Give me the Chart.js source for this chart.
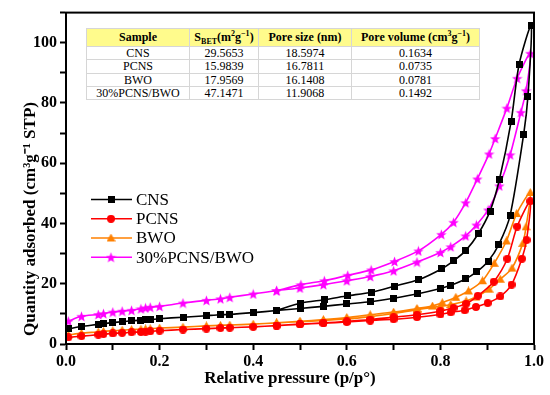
<!DOCTYPE html>
<html lang="en">
<head>
<meta charset="UTF-8" />
<script src="https://cdn.jsdelivr.net/npm/chart.js@4.4.0/dist/chart.umd.min.js"></script>
<title>N2 isotherms</title>
<style>
  body { margin: 0; background: #fff; }
  #wrap { position: relative; width: 550px; height: 395px; }
  #bet { position: absolute; left: 86px; top: 28px; width: 393px; border-collapse: collapse;
         table-layout: fixed; font-family: "Liberation Serif", serif; font-size: 12px; color: #000; background: #fff; }
  #bet th, #bet td { border: 1px solid #d6d6d6; text-align: center; padding: 0; white-space: nowrap; }
  #bet th { background: #fffb8c; height: 17px; font-weight: bold; }
  #bet td { height: 12.3px; line-height: 12px; }
  #bet sub, #bet sup { font-size: 8px; line-height: 0; }
</style>
</head>
<body>
<div id="wrap">
  <canvas id="chart" width="550" height="395"></canvas>
  <table id="bet">
    <colgroup><col style="width:103px"><col style="width:69px"><col style="width:93px"><col style="width:128px"></colgroup>
    <thead>
      <tr><th>Sample</th><th>S<sub>BET</sub>(m<sup>2</sup>g<sup>&minus;1</sup>)</th><th>Pore size (nm)</th><th>Pore volume (cm<sup>3</sup>g<sup>&minus;1</sup>)</th></tr>
    </thead>
    <tbody id="betRows"></tbody>
  </table>
</div>
<script>
  // table values
  const samples = ["CNS", "PCNS", "BWO", "30%PCNS/BWO"];
  const sBet = ["29.5653", "15.9839", "17.9569", "47.1471"];
  const poreSize = ["18.5974", "16.7811", "16.1408", "11.9068"];
  const poreVolume = ["0.1634", "0.0735", "0.0781", "0.1492"];

  const xTitle = "Relative pressure (p/p°)";
  const yTitle = "Quantity adsorbed (cm³g⁻¹ STP)";

  // adsorption branch, shared low pressure points
  const pLow = [0.005, 0.033, 0.069, 0.08, 0.10, 0.12, 0.14, 0.16, 0.17, 0.18, 0.20, 0.25,
                0.30, 0.33, 0.35, 0.40, 0.45, 0.50, 0.55, 0.60, 0.65, 0.70, 0.75, 0.80];

  const cnsLowY = [5.0, 5.8, 6.5, 6.8, 7.1, 7.4, 7.7, 7.9, 8.0, 8.1, 8.4, 8.9,
                   9.4, 9.7, 9.8, 10.4, 11.1, 11.8, 12.5, 13.3, 14.0, 15.2, 16.6, 18.4];
  const cnsHighP = [0.822, 0.854, 0.877, 0.902, 0.925, 0.949, 0.978, 0.987, 0.994];
  const cnsHighY = [19.5, 21.6, 23.9, 27.5, 33.1, 42.7, 69.7, 82.2, 105.7];
  const cnsDesP = [0.968, 0.951, 0.926, 0.906, 0.881, 0.854, 0.828, 0.802, 0.753, 0.702, 0.652, 0.602, 0.552, 0.502, 0.45];
  const cnsDesY = [92.7, 73.7, 54.5, 44.1, 36.6, 31.0, 27.6, 24.9, 21.3, 19.2, 17.2, 16.0, 14.7, 13.6, 11.1];

  const pcnsLowY = [2.2, 2.6, 3.1, 3.3, 3.5, 3.7, 3.9, 4.0, 4.1, 4.2, 4.4, 4.8,
                    5.1, 5.3, 5.4, 5.7, 6.1, 6.5, 6.9, 7.3, 7.8, 8.2, 8.9, 9.8];
  const pcnsHighP = [0.822, 0.852, 0.876, 0.901, 0.928, 0.952, 0.974, 0.984, 0.992];
  const pcnsHighY = [10.5, 11.2, 12.3, 13.6, 15.8, 19.7, 28.3, 34.5, 47.4];
  const pcnsDesP = [0.964, 0.943, 0.914, 0.88, 0.855, 0.828, 0.80, 0.75, 0.70, 0.65, 0.60, 0.55, 0.50, 0.45];
  const pcnsDesY = [39.0, 28.3, 20.7, 16.0, 13.4, 12.0, 10.9, 9.7, 8.9, 8.1, 7.5, 7.0, 6.6, 6.1];

  const bwoLowY = [3.0, 3.6, 4.0, 4.2, 4.4, 4.6, 4.8, 4.9, 5.0, 5.1, 5.3, 5.6,
                   6.0, 6.2, 6.3, 6.6, 7.0, 7.4, 7.8, 8.3, 9.1, 10.1, 11.4, 12.5];
  const bwoHighP = [0.822, 0.855, 0.876, 0.904, 0.928, 0.953, 0.976, 0.983, 0.992];
  const bwoHighY = [13.1, 14.3, 15.6, 18.2, 21.5, 25.2, 33.4, 38.9, 50.3];
  const bwoDesP = [0.963, 0.941, 0.915, 0.89, 0.86, 0.833, 0.804, 0.783, 0.75, 0.70, 0.65, 0.60, 0.55, 0.50, 0.45];
  const bwoDesY = [43.3, 34.2, 26.8, 21.0, 17.6, 15.5, 13.7, 12.6, 11.8, 10.6, 9.7, 8.8, 8.1, 7.5, 7.0];

  const mixLowY = [7.6, 9.2, 9.8, 10.1, 10.6, 10.9, 11.2, 11.7, 12.0, 12.2, 12.5, 13.6,
                   14.5, 15.0, 15.5, 16.6, 17.7, 18.6, 19.7, 21.0, 22.4, 24.3, 27.2, 30.4];
  const mixHighP = [0.822, 0.854, 0.877, 0.902, 0.926, 0.949, 0.972, 0.983, 0.992];
  const mixHighY = [32.3, 35.9, 39.5, 44.5, 52.5, 62.8, 76.9, 84.1, 96.5];
  const mixDesP = [0.964, 0.942, 0.917, 0.904, 0.879, 0.854, 0.828, 0.802, 0.753, 0.702, 0.652, 0.602, 0.552, 0.502, 0.45];
  const mixDesY = [88.2, 78.3, 68.2, 63.1, 54.8, 46.9, 40.4, 36.4, 30.9, 27.4, 24.6, 22.8, 21.0, 19.7, 17.7];

  // fill the table
  const rows = document.getElementById("betRows");
  samples.forEach((s, i) => {
    const tr = document.createElement("tr");
    [s, sBet[i], poreSize[i], poreVolume[i]].forEach(v => {
      const td = document.createElement("td");
      td.textContent = v;
      tr.appendChild(td);
    });
    rows.appendChild(tr);
  });

  function pts(px, py) {
    return px.map((x, i) => ({ x: x, y: py[i] }));
  }
  function isotherm(lowY, highP, highY, desP, desY) {
    return pts(pLow, lowY).concat(pts(highP, highY), pts(desP, desY));
  }

  // small canvases used as point markers
  function marker(shape, color, size) {
    const c = document.createElement("canvas");
    c.width = size;
    c.height = size;
    const g = c.getContext("2d");
    const m = size / 2;
    g.fillStyle = color;
    g.beginPath();
    if (shape === "square") {
      g.rect(0, 0, size, size);
    } else if (shape === "circle") {
      g.arc(m, m, m, 0, Math.PI * 2);
    } else if (shape === "triangle") {
      g.moveTo(m, 0);
      g.lineTo(size, size - 1);
      g.lineTo(0, size - 1);
      g.closePath();
    } else {
      const cy = m + 0.6;
      for (let k = 0; k < 10; k++) {
        const r = k % 2 === 0 ? m : m * 0.42;
        const a = -Math.PI / 2 + k * Math.PI / 5;
        const x = m + r * Math.cos(a), y = cy + r * Math.sin(a);
        if (k === 0) g.moveTo(x, y); else g.lineTo(x, y);
      }
      g.closePath();
    }
    g.fill();
    return c;
  }

  const serif = "'Liberation Serif', 'Times New Roman', serif";

  const series = [
    { label: "CNS", color: "#000000", mark: marker("square", "#000000", 7),
      data: isotherm(cnsLowY, cnsHighP, cnsHighY, cnsDesP, cnsDesY) },
    { label: "PCNS", color: "#ff0000", mark: marker("circle", "#ff0000", 8),
      data: isotherm(pcnsLowY, pcnsHighP, pcnsHighY, pcnsDesP, pcnsDesY) },
    { label: "BWO", color: "#ff8000", mark: marker("triangle", "#ff8000", 9),
      data: isotherm(bwoLowY, bwoHighP, bwoHighY, bwoDesP, bwoDesY) },
    { label: "30%PCNS/BWO", color: "#ff00ff", mark: marker("star", "#ff00ff", 11),
      data: isotherm(mixLowY, mixHighP, mixHighY, mixDesP, mixDesY) }
  ];

  // frame on top/right, axis titles and the key with line + marker
  const frameAndKey = {
    id: "frameAndKey",
    afterDatasetsDraw(chart) {
      const { ctx, chartArea: a } = chart;
      ctx.save();
      ctx.strokeStyle = "#000";
      ctx.lineWidth = 2;
      ctx.strokeRect(a.left, a.top, a.right - a.left, a.bottom - a.top);

      ctx.fillStyle = "#000";
      ctx.textAlign = "center";
      ctx.textBaseline = "middle";
      ctx.font = "bold 17px " + serif;
      ctx.fillText(xTitle, a.left + 224, a.bottom + 35);
      ctx.save();
      ctx.translate(31, a.bottom - 125);
      ctx.rotate(-Math.PI / 2);
      ctx.fillText(yTitle, 0, 0);
      ctx.restore();

      ctx.textAlign = "left";
      ctx.font = "17px " + serif;
      series.forEach((s, i) => {
        const y = a.top + 187 + i * 19.2;
        const x0 = a.left + 25;
        ctx.strokeStyle = s.color;
        ctx.lineWidth = 1.5;
        ctx.beginPath();
        ctx.moveTo(x0, y);
        ctx.lineTo(x0 + 41, y);
        ctx.stroke();
        ctx.drawImage(s.mark, x0 + 20 - s.mark.width / 2, y - s.mark.height / 2);
        ctx.fillText(s.label, x0 + 45, y + 1);
      });
      ctx.restore();
    }
  };

  new Chart(document.getElementById("chart"), {
    type: "scatter",
    data: {
      datasets: series.map(s => ({
        label: s.label,
        data: s.data,
        showLine: true,
        borderColor: s.color,
        backgroundColor: s.color,
        borderWidth: 1.6,
        pointStyle: s.mark,
        pointRadius: 4,
        tension: 0.25,
        fill: false
      }))
    },
    options: {
      responsive: false,
      animation: false,
      devicePixelRatio: 1,
      layout: { padding: { top: 10, right: 16, left: 0, bottom: 0 } },
      plugins: { legend: { display: false }, tooltip: { enabled: false } },
      scales: {
        x: {
          type: "linear",
          min: 0,
          max: 1,
          border: { color: "#000", width: 2 },
          grid: { drawOnChartArea: false, tickLength: 6, tickColor: "#000", tickWidth: 2 },
          ticks: {
            stepSize: 0.1,
            autoSkip: false,
            maxRotation: 0,
            padding: 2,
            color: "#000",
            font: { family: serif, size: 16, weight: "bold" },
            callback: v => (Math.round(v * 10) % 2 === 0 ? v.toFixed(1) : "")
          },
          afterFit: s => { s.height = 51; }
        },
        y: {
          min: 0,
          max: 110,
          border: { color: "#000", width: 2 },
          grid: { drawOnChartArea: false, tickLength: 6, tickColor: "#000", tickWidth: 2 },
          ticks: {
            stepSize: 10,
            padding: 3,
            color: "#000",
            font: { family: serif, size: 16, weight: "bold" },
            callback: v => (v % 20 === 0 && v <= 100 ? v : "")
          },
          afterFit: s => { s.width = 66; }
        }
      }
    },
    plugins: [frameAndKey]
  });
</script>
</body>
</html>
